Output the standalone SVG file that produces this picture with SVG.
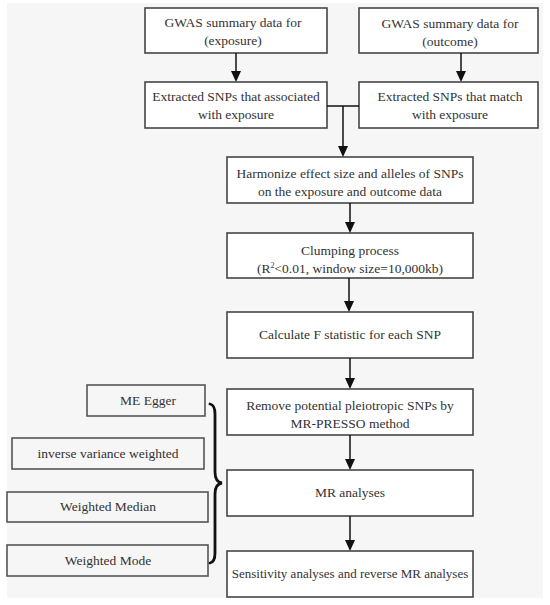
<svg xmlns="http://www.w3.org/2000/svg" width="550" height="605" viewBox="0 0 550 605">
<defs>
<style>
.bg{fill:#f6f6f6}
.box{fill:#ffffff;stroke:#454545;stroke-width:1.6}
.lbox{fill:#f6f6f6;stroke:#555555;stroke-width:1.6}
.t{font-size:13.5px;fill:#333;text-anchor:middle}
.ts{font-size:13px}
.ln{stroke:#111;stroke-width:1.5;fill:none}
.ah{fill:#111;stroke:none}
.brace{stroke:#111;stroke-width:2.8;fill:none;stroke-linecap:round}
</style>
</defs>
<rect x="0" y="0" width="550" height="605" fill="#ffffff"/>
<rect class="bg" x="7" y="3" width="536" height="595"/>

<g font-family="Liberation Serif, Times New Roman, serif">
<g id="n1"><rect class="box" x="145" y="8" width="182" height="45"/>
<text class="t" x="233" y="27">GWAS summary data for</text>
<text class="t" x="233" y="45">(exposure)</text></g>

<g id="n2"><rect class="box" x="359" y="8" width="179" height="45"/>
<text class="t" x="450" y="28">GWAS summary data for</text>
<text class="t" x="450" y="46">(outcome)</text></g>

<g id="n3"><rect class="box" x="145" y="82" width="182" height="46"/>
<text class="t" x="236" y="101">Extracted SNPs that associated</text>
<text class="t" x="236" y="119">with exposure</text></g>

<g id="n4"><rect class="box" x="359" y="82" width="179" height="46"/>
<text class="t" x="450" y="101">Extracted SNPs that match</text>
<text class="t" x="450" y="119">with exposure</text></g>

<g id="n5"><rect class="box" x="227" y="157" width="246" height="46"/>
<text class="t" x="350" y="178">Harmonize effect size and alleles of SNPs</text>
<text class="t" x="350" y="196">on the exposure and outcome data</text></g>

<g id="n6"><rect class="box" x="227" y="233" width="246" height="45"/>
<text class="t" x="350" y="255">Clumping process</text>
<text class="t" x="350" y="273">(R<tspan dy="-5" font-size="8">2</tspan><tspan dy="5">&lt;0.01, window size=10,000kb)</tspan></text></g>

<g id="n7"><rect class="box" x="227" y="312" width="246" height="46"/>
<text class="t" x="350" y="339">Calculate F statistic for each SNP</text></g>

<g id="n8"><rect class="box" x="227" y="389" width="246" height="46"/>
<text class="t" x="350" y="410">Remove potential pleiotropic SNPs by</text>
<text class="t" x="350" y="428">MR-PRESSO method</text></g>

<g id="n9"><rect class="box" x="227" y="470" width="246" height="46"/>
<text class="t" x="350" y="497">MR analyses</text></g>

<g id="n10"><rect class="box" x="227" y="551" width="246" height="46"/>
<text class="t ts" x="350" y="578">Sensitivity analyses and reverse MR analyses</text></g>

<g id="m1"><rect class="lbox" x="87" y="385" width="118" height="31"/>
<text class="t" x="148" y="405">ME Egger</text></g>
<g id="m2"><rect class="lbox" x="12" y="438" width="192" height="31"/>
<text class="t" x="108" y="458">inverse variance weighted</text></g>
<g id="m3"><rect class="lbox" x="7" y="492" width="201" height="30"/>
<text class="t" x="108" y="511">Weighted Median</text></g>
<g id="m4"><rect class="lbox" x="7" y="545" width="201" height="31"/>
<text class="t" x="108" y="565">Weighted Mode</text></g>
</g>

<g id="connectors">
<line class="ln" x1="236" y1="53" x2="236" y2="73"/>
<polygon class="ah" points="231,71 241,71 236,82"/>
<line class="ln" x1="461" y1="53" x2="461" y2="73"/>
<polygon class="ah" points="456,71 466,71 461,82"/>
<line class="ln" x1="327" y1="106" x2="359" y2="106"/>
<line class="ln" x1="343" y1="106" x2="343" y2="148"/>
<polygon class="ah" points="338,146 348,146 343,157"/>
<line class="ln" x1="350" y1="203" x2="350" y2="224"/>
<polygon class="ah" points="345,222 355,222 350,233"/>
<line class="ln" x1="349" y1="278" x2="349" y2="303"/>
<polygon class="ah" points="344,301 354,301 349,312"/>
<line class="ln" x1="350" y1="358" x2="350" y2="380"/>
<polygon class="ah" points="345,378 355,378 350,389"/>
<line class="ln" x1="350" y1="435" x2="350" y2="461"/>
<polygon class="ah" points="345,459 355,459 350,470"/>
<line class="ln" x1="350" y1="516" x2="350" y2="542"/>
<polygon class="ah" points="345,540 355,540 350,551"/>
<path class="brace" d="M210,404 Q215,405 215,414 L215,472 Q215,482 222,483 Q215,484 215,494 L215,553 Q215,562 210,563"/>
</g>
</svg>
